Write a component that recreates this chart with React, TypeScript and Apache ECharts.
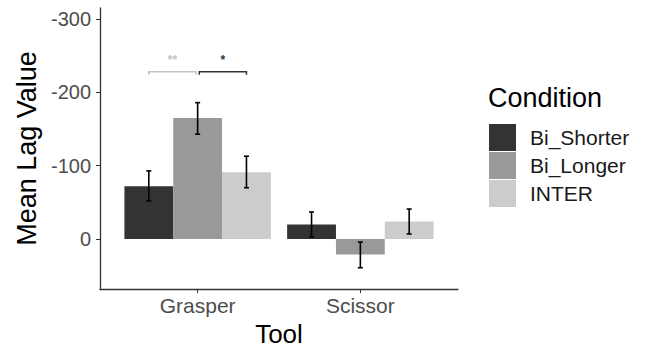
import React, { useEffect, useRef } from "react";
import * as echarts from "echarts";

const categories = ["Grasper", "Scissor"];
const conditions = ["Bi_Shorter", "Bi_Longer", "INTER"];
const colors = ["#333333", "#999999", "#cccccc"];

const biShorterMean = [-72, -20];
const biShorterLow = [-93, -37];
const biShorterHigh = [-52, -3];

const biLongerMean = [-165, 21];
const biLongerLow = [-186, 4];
const biLongerHigh = [-143, 39];

const interMean = [-91, -24];
const interLow = [-113, -41];
const interHigh = [-70, -7];

const yTicks = [-300, -200, -100, 0];

// significance brackets: [xStart, xEnd, yLevel, label]
const sigStart = [0.7, 1.01];
const sigEnd = [0.99, 1.3];
const sigLevel = [-228, -228];
const sigLabels = ["**", "*"];
const sigColors = ["#c4c4c4", "#333333"];

const offsets = [-0.3, 0, 0.3];

export default function App() {
  const ref = useRef<HTMLDivElement>(null);
  useEffect(() => {
    if (!ref.current) return;
    const chart = echarts.init(ref.current, null, { renderer: "svg" });
    const means = [biShorterMean, biLongerMean, interMean];
    const lows = [biShorterLow, biLongerLow, interLow];
    const highs = [biShorterHigh, biLongerHigh, interHigh];

    const barSeries = conditions.map((name, si) => ({
      type: "custom",
      name,
      itemStyle: { color: colors[si] },
      clip: false,
      data: categories.map((_, ci) => [ci + 1, means[si][ci], lows[si][ci], highs[si][ci]]),
      renderItem: (params: any, api: any) => {
        const x = api.value(0) + offsets[si];
        const v = api.value(1);
        const lo = api.value(2);
        const hi = api.value(3);
        const w = api.size([0.3, 0])[0];
        const p0 = api.coord([x, 0]);
        const p1 = api.coord([x, v]);
        const e1 = api.coord([x, lo]);
        const e2 = api.coord([x, hi]);
        const cap = 2.5;
        const ls = { stroke: "#000", lineWidth: 1.6 };
        return {
          type: "group",
          children: [
            {
              type: "rect",
              shape: {
                x: p0[0] - w / 2,
                y: Math.min(p0[1], p1[1]),
                width: w,
                height: Math.abs(p0[1] - p1[1]),
              },
              style: { fill: colors[si] },
            },
            { type: "line", shape: { x1: e1[0], y1: e1[1], x2: e2[0], y2: e2[1] }, style: ls },
            { type: "line", shape: { x1: e1[0] - cap, y1: e1[1], x2: e1[0] + cap, y2: e1[1] }, style: ls },
            { type: "line", shape: { x1: e2[0] - cap, y1: e2[1], x2: e2[0] + cap, y2: e2[1] }, style: ls },
          ],
        };
      },
    }));

    const sigSeries = {
      type: "custom",
      clip: false,
      silent: true,
      data: sigStart.map((s, i) => [s, sigEnd[i], sigLevel[i], i]),
      renderItem: (params: any, api: any) => {
        const i = api.value(3);
        const a = api.coord([api.value(0), api.value(2)]);
        const b = api.coord([api.value(1), api.value(2)]);
        const col = sigColors[i];
        const drop = 3;
        return {
          type: "group",
          children: [
            {
              type: "polyline",
              shape: {
                points: [
                  [a[0], a[1] + drop],
                  [a[0], a[1]],
                  [b[0], b[1]],
                  [b[0], b[1] + drop],
                ],
              },
              style: { stroke: col, lineWidth: 1.5, fill: null },
            },
            {
              type: "text",
              x: (a[0] + b[0]) / 2,
              y: a[1] - 12,
              style: {
                text: sigLabels[i],
                fill: col,
                font: "bold 12px 'Liberation Sans', Arial, sans-serif",
                align: "center",
                verticalAlign: "middle",
              },
            },
          ],
        };
      },
    };

    const font = "'Liberation Sans', Arial, Helvetica, sans-serif";
    chart.setOption({
      animation: false,
      backgroundColor: "#ffffff",
      grid: { left: 100, top: 8, width: 358, height: 281, containLabel: false, outerBoundsMode: "none" },
      legend: {
        data: conditions,
        orient: "vertical",
        left: 489,
        top: 124,
        icon: "rect",
        itemWidth: 27,
        itemHeight: 27,
        itemGap: 1,
        padding: 0,
        textStyle: { fontSize: 21, color: "#1a1a1a", fontFamily: font, lineHeight: 22, padding: [0, 0, 0, 9] },
      },
      graphic: [
        {
          type: "text",
          left: 488,
          top: 84,
          style: { text: "Condition", fontSize: 27, fontFamily: font, fill: "#000" },
        },
      ],
      xAxis: {
        type: "value",
        min: 0.4,
        max: 2.6,
        name: "Tool",
        nameLocation: "middle",
        nameGap: 26,
        nameTextStyle: { fontSize: 26, lineHeight: 26, color: "#000", fontFamily: font },
        splitLine: { show: false },
        axisLine: { show: true, onZero: false, lineStyle: { color: "#333", width: 1.3 } },
        axisTick: { show: true, customValues: [1, 2], length: 4, lineStyle: { color: "#333" } },
        axisLabel: {
          customValues: [1, 2],
          formatter: (v: number) => categories[Math.round(v) - 1] || "",
          fontSize: 21,
          color: "#4d4d4d",
          fontFamily: font,
          margin: 6,
        },
      },
      yAxis: {
        type: "value",
        inverse: true,
        min: -315,
        max: 68,
        name: "Mean Lag Value",
        nameLocation: "middle",
        nameGap: 57,
        nameTextStyle: { fontSize: 27, color: "#000", fontFamily: font },
        splitLine: { show: false },
        axisLine: { show: true, onZero: false, lineStyle: { color: "#333", width: 1.3 } },
        axisTick: { show: true, customValues: yTicks, length: 4, lineStyle: { color: "#333" } },
        axisLabel: {
          customValues: yTicks,
          fontSize: 20,
          color: "#4d4d4d",
          fontFamily: font,
          margin: 9,
        },
      },
      series: [...barSeries, sigSeries],
    });
    return () => chart.dispose();
  }, []);
  return (
    <div
      ref={ref}
      style={{ position: "fixed", left: 0, top: 0, width: 649, height: 347, background: "#fff" }}
    />
  );
}
